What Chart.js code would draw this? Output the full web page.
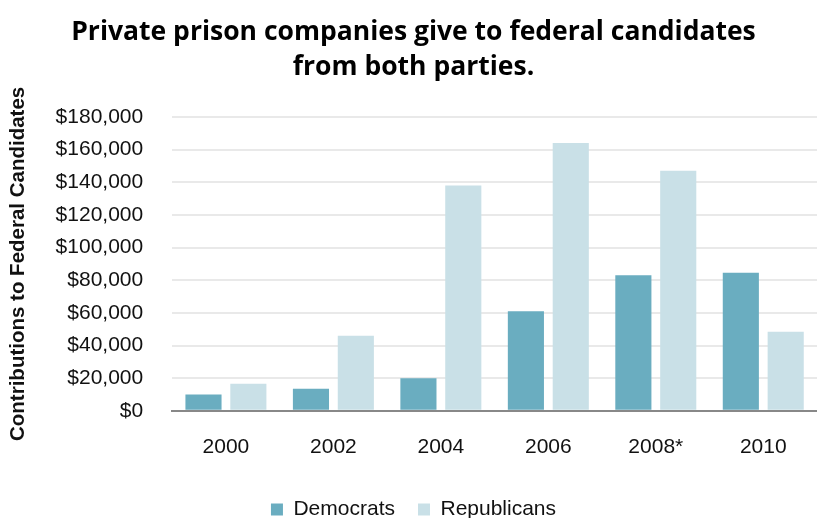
<!DOCTYPE html>
<html>
<head>
<meta charset="utf-8">
<script src="https://cdn.jsdelivr.net/npm/chart.js@4"></script>
<style>
  html, body { margin: 0; padding: 0; background: #fff; }
  #wrap { width: 817px; height: 518px; }
</style>
</head>
<body>
<div id="wrap"><canvas id="chart"></canvas></div>
<script>
// --- DATA ---
const years = ['2000', '2002', '2004', '2006', '2008*', '2010'];
const democrats = [10000, 13500, 20000, 61000, 83000, 84500];
const republicans = [16500, 46000, 138000, 164000, 147000, 48500];
const yTicks = [0, 20000, 40000, 60000, 80000, 100000, 120000, 140000, 160000, 180000];

const ctx = document.getElementById('chart').getContext('2d');
new Chart(ctx, {
  type: 'bar',
  data: {
    labels: years,
    datasets: [
      { label: 'Democrats', data: democrats, backgroundColor: '#6aadc0' },
      { label: 'Republicans', data: republicans, backgroundColor: '#c9e0e7' }
    ]
  },
  options: {
    responsive: true,
    maintainAspectRatio: false,
    animation: false,
    layout: { padding: { left: 6, right: -4, top: 4, bottom: -12 } },
    datasets: { bar: { categoryPercentage: 0.835, barPercentage: 0.805 } },
    plugins: {
      title: {
        display: true,
        text: ['Private prison companies give to federal candidates', 'from both parties.'],
        color: '#000',
        font: { family: 'Open Sans', size: 26.5, weight: 'bold', lineHeight: 1.32 },
        padding: { top: 11, bottom: 32 }
      },
      legend: {
        position: 'bottom',
        labels: {
          color: '#111',
          font: { family: 'Liberation Sans', size: 21 },
          boxWidth: 12, boxHeight: 12, padding: 23
        }
      },
      tooltip: { enabled: false }
    },
    scales: {
      x: {
        grid: { display: false },
        border: { color: '#888', width: 2 },
        ticks: { color: '#111', font: { family: 'Liberation Sans', size: 21 }, padding: 16 }
      },
      y: {
        min: 0, max: 180000,
        afterBuildTicks: axis => { axis.ticks = yTicks.map(v => ({ value: v })); },
        grid: { color: '#e9e9e9', lineWidth: 2, drawTicks: false },
        border: { display: false },
        ticks: {
          color: '#111',
          font: { family: 'Liberation Sans', size: 21 },
          padding: 29,
          callback: v => '$' + v.toLocaleString('en-US')
        },
        title: {
          display: true,
          text: 'Contributions to Federal Candidates',
          color: '#111',
          font: { family: 'Liberation Sans', size: 20.5, weight: 'bold' },
          padding: { top: 0, bottom: -4 }
        }
      }
    }
  }
});
</script>
</body>
</html>
